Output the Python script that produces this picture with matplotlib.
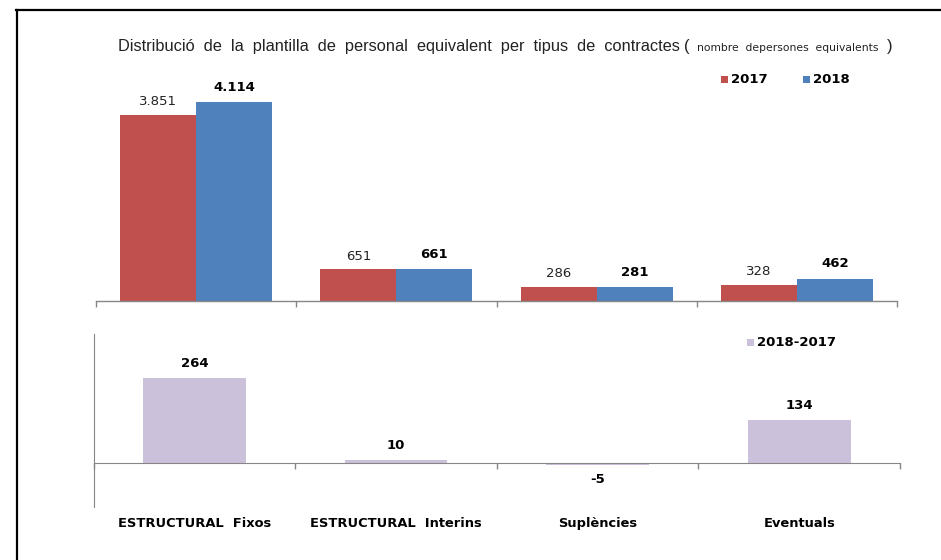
import matplotlib
matplotlib.use("Agg")
import matplotlib.pyplot as plt
from matplotlib.lines import Line2D
from matplotlib.patches import Rectangle
import numpy as np

categories = ["ESTRUCTURAL  Fixos", "ESTRUCTURAL  Interins", "Suplències", "Eventuals"]
values_2017 = [3851, 651, 286, 328]
values_2018 = [4114, 661, 281, 462]
diff_2018_2017 = [264, 10, -5, 134]
title_main = "Distribució  de  la  plantilla  de  personal  equivalent  per  tipus  de  contractes"
title_sub = "nombre  depersones  equivalents"

RED = "#C0504D"
BLUE = "#4F81BD"
PURPLE = "#CCC1DA"
GRAY = "#868686"

W, H = 941, 560
fig = plt.figure(figsize=(W / 100, H / 100), dpi=100)
fig.patch.set_facecolor("white")


def fx(px):
    return px / W


def fy(py):
    return 1 - py / H


def fmt(v):
    return f"{v:,}".replace(",", ".")


def fit_text(t, target_px):
    r = fig.canvas.get_renderer()
    w = t.get_window_extent(renderer=r).width
    t.set_fontsize(t.get_fontsize() * target_px / w)


# ---- top axes ----
ax1 = fig.add_axes([fx(96), fy(301), fx(897) - fx(96), (301 - 59) / H])
x = np.arange(len(categories)) + 0.5
bw = 0.38
ax1.bar(x - bw / 2, values_2017, bw, color=RED, edgecolor="none")
ax1.bar(x + bw / 2, values_2018, bw, color=BLUE, edgecolor="none")
ax1.set_xlim(0, 4)
ax1.set_ylim(0, 5000)
for s in ["top", "right", "left"]:
    ax1.spines[s].set_visible(False)
ax1.spines["bottom"].set_color(GRAY)
ax1.spines["bottom"].set_linewidth(1.0)
ax1.set_yticks([])
ax1.set_xticks(np.arange(0, 5))
ax1.set_xticklabels([])
ax1.tick_params(axis="x", direction="out", length=4, color=GRAY, width=1.0)
for xi, v in zip(x - bw / 2, values_2017):
    ax1.annotate(fmt(v), (xi, v), xytext=(0, 5), textcoords="offset points",
                 ha="center", va="bottom", fontsize=9.5, color="#222222",
                 family="DejaVu Sans")
for xi, v in zip(x + bw / 2, values_2018):
    ax1.annotate(fmt(v), (xi, v), xytext=(0, 6), textcoords="offset points",
                 ha="center", va="bottom", fontsize=9.5, fontweight="bold",
                 color="black", family="DejaVu Sans")

# ---- bottom axes ----
ax2 = fig.add_axes([fx(93.7), fy(507), fx(900) - fx(93.7), 173 / H])
ax2.bar(x, diff_2018_2017, 0.51, color=PURPLE, edgecolor="none")
ax2.set_xlim(0, 4)
ax2.set_ylim(-135.7, 401.6)
for s in ["top", "right"]:
    ax2.spines[s].set_visible(False)
ax2.spines["left"].set_color(GRAY)
ax2.spines["bottom"].set_color(GRAY)
ax2.spines["bottom"].set_position(("data", 0))
ax2.set_yticks([])
ax2.set_xticks(np.arange(0, 5))
ax2.set_xticklabels([])
ax2.tick_params(axis="x", direction="out", length=4, color=GRAY, width=1.0)
for xi, v in zip(x, diff_2018_2017):
    if v >= 0:
        ax2.annotate(fmt(v), (xi, v), xytext=(0, 6), textcoords="offset points",
                     ha="center", va="bottom", fontsize=9.5, fontweight="bold",
                     color="black", family="DejaVu Sans")
    else:
        ax2.annotate(fmt(v), (xi, v), xytext=(0, -6), textcoords="offset points",
                     ha="center", va="top", fontsize=9.5, fontweight="bold",
                     color="black", family="DejaVu Sans")
for xi, lab in zip(x, categories):
    ax2.text(xi, -0.098, lab, transform=ax2.get_xaxis_transform(),
             ha="center", va="center", fontsize=9.4, fontweight="bold",
             color="black", family="DejaVu Sans")

# ---- title ----
t_main = fig.text(fx(118), fy(47), title_main, ha="left", va="center", fontsize=11,
                  family=["Liberation Sans", "DejaVu Sans"], color="#222222")
fit_text(t_main, 562)
fig.text(fx(684), fy(47), "(", ha="left", va="center", fontsize=12,
         family=["Liberation Sans", "DejaVu Sans"], color="#222222")
t_sub = fig.text(fx(697), fy(48), title_sub, ha="left", va="center", fontsize=7.5,
                 family="DejaVu Sans", color="#222222")
fit_text(t_sub, 181)
fig.text(fx(887), fy(47), ")", ha="left", va="center", fontsize=12,
         family=["Liberation Sans", "DejaVu Sans"], color="#222222")

# ---- legends ----
def legend_entry(px, py, color, label):
    fig.patches.append(Rectangle((fx(px), fy(py + 3)), 7 / W, 7 / H,
                                 transform=fig.transFigure, facecolor=color,
                                 edgecolor="none"))
    fig.text(fx(px + 10), fy(py), label, ha="left", va="center", fontsize=9.5,
             fontweight="bold", family="DejaVu Sans", color="black")

legend_entry(721, 80, RED, "2017")
legend_entry(803, 80, BLUE, "2018")
legend_entry(747, 343, PURPLE, "2018-2017")

# ---- frame ----
fig.add_artist(Line2D([fx(17), fx(17)], [fy(10), 0], transform=fig.transFigure,
                      color="black", linewidth=1.6))
fig.add_artist(Line2D([fx(16.4), 1], [fy(10), fy(10)], transform=fig.transFigure,
                      color="black", linewidth=1.6))

fig.savefig("out.png", dpi=100, facecolor="white")
